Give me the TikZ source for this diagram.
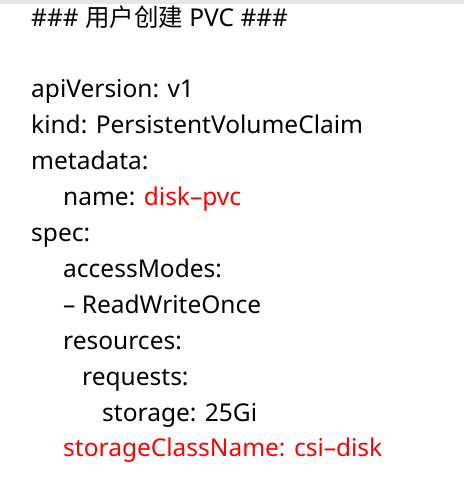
\documentclass[tikz,border=0pt]{standalone}
\usepackage{fontspec}
\setmainfont{Noto Sans}
\newfontfamily\cjk{Noto Sans CJK SC}
\definecolor{topbar}{HTML}{E6E6E6}
\definecolor{keyred}{HTML}{FF0000}
\tikzset{
 yamlline/.style={anchor=base west, inner sep=0pt, font=\fontsize{24.5}{24.5}\selectfont},
 hl/.style={text=keyred}
}

\begin{document}
\begin{tikzpicture}[x=1pt,y=-1pt]
\useasboundingbox (0,0) rectangle (464,482);
\fill[topbar] (0,0) rectangle (464,4);
% header
\node[yamlline] (title) at (31,26) {\#\#\# {\cjk 用户创建} PVC \#\#\#};
% manifest
\node[yamlline] (api) at (31,97) {apiVersion: v1};
\node[yamlline] (kind) at (31,133) {kind: PersistentVolumeClaim};
\node[yamlline] (meta) at (31,169) {metadata:};
\node[yamlline] (name) at (63,205) {name: \textcolor{keyred}{disk–pvc}};
\node[yamlline] (spec) at (31,241) {spec:};
\node[yamlline] (modes) at (63,277) {accessModes:};
\node[yamlline] (rwo) at (63,313) {– ReadWriteOnce};
\node[yamlline] (res) at (63,349) {resources:};
\node[yamlline] (req) at (82,385) {requests:};
\node[yamlline] (size) at (102,421) {storage: 25Gi};
\node[yamlline,hl] (sc) at (63,456) {storageClassName: csi–disk};
\end{tikzpicture}
\end{document}
